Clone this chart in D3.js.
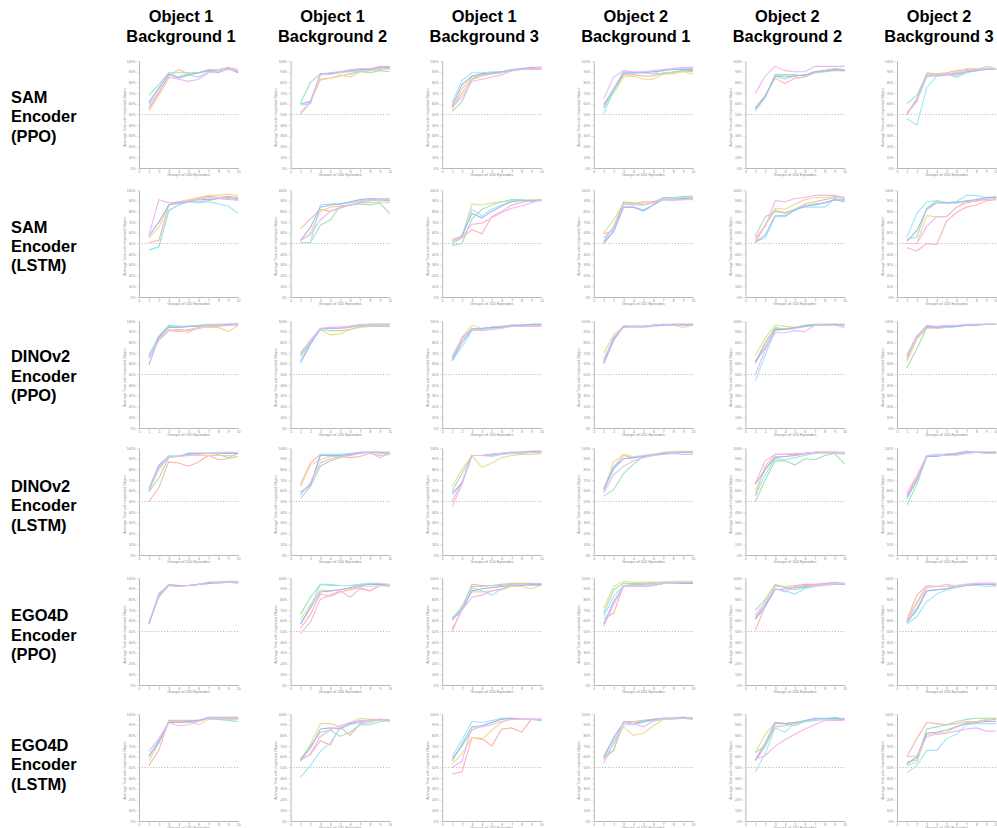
<!DOCTYPE html>
<html>
<head>
<meta charset="utf-8">
<script src="https://cdn.jsdelivr.net/npm/d3@7"></script>
<style>
  body { margin: 0; background: #fff; }
  .hdr { font-family: "Liberation Sans", Arial, sans-serif; font-weight: bold; font-size: 16.4px; fill: #000; }
  .tiny { font-family: "Liberation Sans", Arial, sans-serif; fill: #8a8a8a; }
</style>
</head>
<body>
<script>
// column / row labels
var columns = [
  ['Object 1', 'Background 1'], ['Object 1', 'Background 2'], ['Object 1', 'Background 3'],
  ['Object 2', 'Background 1'], ['Object 2', 'Background 2'], ['Object 2', 'Background 3']
];
var rows = [
  ['SAM', 'Encoder', '(PPO)'], ['SAM', 'Encoder', '(LSTM)'],
  ['DINOv2', 'Encoder', '(PPO)'], ['DINOv2', 'Encoder', '(LSTM)'],
  ['EGO4D', 'Encoder', '(PPO)'], ['EGO4D', 'Encoder', '(LSTM)']
];

var episodes = [1, 2, 3, 4, 5, 6, 7, 8, 9, 10];
var xTicks = [0, 1, 2, 3, 4, 5, 6, 7, 8, 9, 10];
var yTicks = [0, 0.1, 0.2, 0.3, 0.4, 0.5, 0.6, 0.7, 0.8, 0.9, 1];
var seeds = ['red', 'yellow', 'green', 'cyan', 'blue', 'magenta'];
var seedColors = ['#ffb2ac', '#e8de8e', '#9fe3b3', '#9fe6fa', '#a7b6ef', '#f2b6f3'];

// % of time with imprinted object; each panel = 6 seeds x 10 groups
var samPPO = [
  [[55,70,86,92,88,89,92,92,94,92],[53,68,84,86,88,89,91,92,93,91],[68,78,89,89,89,89,91,91,93,89],
   [62,75,88,85,87,85,90,91,93,90],[60,74,88,84,87,89,91,89,93,89],[57,71,85,83,81,83,89,90,92,91]],
  [[50,62,83,84,86,88,90,91,92,93],[50,63,82,84,87,85,90,91,93,92],[61,80,88,88,89,90,90,89,91,90],
   [59,60,88,89,90,91,91,92,94,93],[60,62,88,88,90,91,92,92,94,94],[52,61,87,89,90,92,93,93,95,95]],
  [[56,70,83,86,88,89,91,92,92,92],[55,74,85,87,88,89,91,92,93,93],[53,62,83,88,88,90,91,92,93,94],
   [61,82,89,89,90,90,91,93,93,94],[58,78,86,88,89,90,92,93,94,94],[57,66,81,83,85,87,91,92,93,94]],
  [[56,72,87,87,86,86,89,89,91,90],[57,70,85,86,83,83,88,88,90,88],[56,72,88,89,89,88,88,90,91,91],
   [51,72,91,88,90,88,92,93,93,93],[59,74,89,89,89,90,91,92,92,92],[65,85,91,90,90,91,92,93,94,94]],
  [[56,68,84,79,84,85,89,90,91,91],[57,67,87,87,87,86,89,90,92,91],[56,66,87,87,87,86,89,91,93,92],
   [53,66,86,83,86,87,90,91,92,92],[55,67,86,85,86,87,90,91,92,91],[70,86,95,91,90,90,95,95,95,95]],
  [[52,62,89,88,89,91,92,93,93,92],[51,65,88,88,88,90,93,93,93,92],[60,68,87,87,88,85,89,91,95,93],
   [46,40,75,86,87,87,89,92,92,92],[50,64,86,86,87,88,90,91,92,92],[50,63,85,87,87,89,91,92,93,92]]
];
var samLSTM = [
  [[51,53,86,89,90,92,94,93,94,93],[55,65,86,89,91,93,95,95,96,95],[44,47,81,86,89,89,90,92,91,91],
   [44,47,80,87,89,88,89,87,85,78],[57,70,86,88,89,91,91,92,93,92],[58,91,88,89,90,91,93,92,92,90]],
  [[64,73,82,80,83,86,89,90,91,90],[52,60,80,84,85,86,88,88,89,88],[51,51,67,72,85,86,87,86,88,78],
   [51,51,86,87,87,88,90,91,92,92],[53,65,84,86,87,89,91,92,91,90],[53,58,72,80,84,86,88,90,91,91]],
  [[50,55,63,59,75,80,86,88,91,91],[54,57,87,86,88,89,90,90,91,91],[48,50,73,82,86,89,91,91,90,91],
   [49,58,82,76,82,86,90,91,89,91],[52,57,78,74,80,85,89,90,90,90],[53,56,68,69,74,79,83,85,88,91]],
  [[59,62,88,87,89,89,92,92,92,92],[60,72,88,87,88,88,91,90,91,91],[52,66,89,88,86,88,93,93,94,94],
   [51,62,84,84,80,86,92,92,93,93],[50,61,84,84,81,86,91,91,92,92],[55,64,87,86,86,88,91,91,91,92]],
  [[51,67,81,79,82,87,89,91,93,92],[53,68,83,82,87,91,93,93,94,93],[57,75,80,78,82,85,87,88,91,91],
   [52,55,75,75,82,84,84,84,92,90],[51,58,76,76,81,85,86,88,91,89],[55,66,90,89,92,93,95,95,95,93]],
  [[46,43,50,49,71,79,84,86,90,91],[50,50,76,75,75,84,90,89,92,93],[54,56,83,90,88,89,89,90,93,93],
   [56,78,89,90,88,89,95,95,93,94],[52,62,82,88,88,88,90,91,93,93],[50,50,66,75,75,84,88,90,91,92]]
];
var dinoPPO = [
  [[67,84,92,92,91,93,95,95,96,96],[66,82,92,91,89,94,94,94,90,96],[68,86,96,95,95,96,97,97,97,97],
   [67,86,95,94,95,95,96,97,97,98],[59,85,94,94,95,95,96,96,97,97],[65,82,91,90,92,94,96,96,96,97]],
  [[70,82,93,93,93,94,96,96,96,97],[68,80,92,87,88,92,94,95,95,96],[67,80,92,91,91,92,95,95,95,95],
   [63,79,93,94,94,95,97,97,97,97],[61,78,93,93,94,95,96,97,97,97],[69,82,93,94,94,95,96,97,97,97]],
  [[65,83,93,93,94,95,96,96,96,96],[66,85,96,93,94,95,96,96,97,97],[65,84,93,93,94,94,96,96,96,97],
   [63,76,91,92,93,94,96,96,97,97],[63,80,92,93,94,94,96,96,97,97],[67,84,92,91,92,93,95,95,95,95]],
  [[64,84,95,95,95,96,97,97,97,97],[70,87,95,95,95,96,96,96,94,96],[62,83,95,94,95,96,96,96,96,97],
   [61,82,95,94,94,95,96,96,96,96],[60,82,95,95,95,96,96,97,97,97],[63,85,94,95,95,96,97,96,96,96]],
  [[62,80,93,93,94,96,96,97,97,97],[68,84,96,95,94,96,97,97,97,97],[60,79,94,92,93,96,97,97,97,96],
   [44,68,91,92,93,95,96,96,96,96],[62,75,92,92,94,95,96,96,97,96],[50,73,89,89,91,90,96,96,96,94]],
  [[64,84,94,93,94,95,96,96,97,97],[62,83,93,94,95,95,96,97,97,97],[56,74,94,94,94,95,96,96,97,97],
   [66,86,95,94,94,95,96,97,97,97],[68,86,95,94,95,95,96,96,97,97],[67,85,96,95,96,96,97,97,97,97]]
];
var dinoLSTM = [
  [[50,63,87,86,83,87,93,89,90,92],[60,80,92,93,93,93,93,93,93,92],[59,72,91,92,94,95,95,94,91,95],
   [61,82,93,92,95,95,95,96,96,95],[62,84,92,92,95,95,95,95,95,95],[61,81,92,92,93,94,95,95,96,96]],
  [[66,86,94,92,92,91,92,95,93,94],[64,84,89,92,93,93,95,96,95,95],[53,64,83,88,91,94,96,96,96,96],
   [58,65,94,94,94,95,96,96,96,96],[59,65,93,93,93,94,96,96,96,95],[56,68,86,90,92,93,95,96,91,95]],
  [[50,68,93,93,94,95,96,96,97,97],[64,80,93,82,86,91,93,94,94,95],[60,76,93,93,93,94,95,95,96,96],
   [56,68,93,93,92,94,95,96,96,96],[58,67,93,93,94,95,96,96,97,97],[45,66,93,93,94,95,96,96,96,96]],
  [[60,82,93,91,93,94,95,96,96,96],[61,87,94,92,93,94,96,97,97,97],[55,61,76,85,92,94,95,96,96,96],
   [60,80,90,91,93,93,95,96,96,96],[62,82,90,91,92,93,95,95,96,96],[58,75,83,88,91,93,94,95,94,94]],
  [[56,83,94,94,94,95,96,96,96,95],[60,80,92,92,93,94,95,95,95,94],[50,70,88,88,84,90,89,93,95,85],
   [55,75,90,89,91,93,95,96,96,95],[66,80,91,92,93,95,96,96,96,96],[67,88,94,94,95,95,96,96,96,96]],
  [[58,74,93,93,94,95,96,96,96,96],[55,72,93,93,94,95,96,96,96,96],[47,66,92,93,93,94,95,96,96,96],
   [52,70,93,94,94,93,95,96,95,95],[54,70,92,92,94,95,97,96,96,96],[56,72,93,93,93,94,96,96,95,95]]
];
var egoPPO = [
  [[58,82,93,92,93,94,96,96,97,97],[57,83,94,93,93,94,95,96,96,96],[58,84,94,93,93,94,96,96,96,96],
   [58,86,93,93,93,94,95,95,96,95],[57,84,93,93,93,94,95,96,96,96],[59,83,93,92,93,94,96,96,96,96]],
  [[53,66,85,83,87,89,91,88,93,92],[61,75,89,88,89,90,92,92,93,93],[66,82,94,93,93,93,94,94,94,93],
   [57,73,94,94,93,93,94,95,95,94],[57,72,87,88,89,91,93,94,94,93],[48,59,80,84,88,82,90,88,93,93]],
  [[50,72,94,93,93,94,95,95,95,94],[60,74,87,87,88,89,92,92,90,93],[62,73,92,92,93,93,94,95,94,95],
   [63,71,91,88,84,90,93,93,94,94],[61,70,88,90,91,92,93,93,94,94],[52,70,82,84,88,90,93,94,93,93]],
  [[62,67,93,94,94,95,96,96,96,96],[72,92,97,96,96,96,96,97,97,97],[67,89,95,95,95,96,96,96,96,96],
   [64,83,93,93,93,94,95,95,95,95],[57,78,92,92,92,93,95,95,95,95],[55,75,92,92,92,93,95,95,96,96]],
  [[51,74,93,92,93,94,94,95,96,95],[62,78,92,92,91,92,93,94,95,94],[70,80,94,91,89,91,93,94,96,94],
   [61,73,90,88,85,90,92,93,94,94],[62,74,89,90,91,92,93,94,95,94],[65,77,90,87,92,93,93,94,95,95]],
  [[61,84,93,92,92,93,94,94,95,94],[60,78,93,92,92,93,94,95,95,95],[58,72,88,89,90,92,93,94,95,92],
   [57,64,78,85,89,91,93,93,92,93],[59,70,88,89,90,92,93,94,94,94],[60,76,91,92,94,92,94,95,95,95]]
];
var egoLSTM = [
  [[52,66,94,94,94,94,96,96,96,96],[56,73,93,93,93,90,95,95,95,95],[60,75,93,92,92,94,96,95,94,93],
   [60,73,92,92,93,94,96,96,96,96],[61,74,92,92,93,94,97,97,97,97],[65,77,92,89,90,93,96,96,96,96]],
  [[58,62,75,71,88,80,91,92,95,93],[56,72,91,91,88,92,96,95,95,94],[58,70,83,85,79,83,90,90,93,94],
   [41,52,65,73,87,90,92,93,95,94],[57,68,86,87,86,91,93,94,95,94],[56,63,79,85,89,92,94,94,95,94]],
  [[44,46,78,77,70,86,87,83,95,95],[53,63,78,76,85,92,96,95,95,95],[58,70,85,89,92,96,96,95,95,95],
   [60,76,93,92,94,96,96,95,95,95],[56,72,88,89,92,95,96,95,95,94],[50,56,88,88,90,93,95,95,95,95]],
  [[58,66,93,93,94,95,96,96,97,96],[57,72,88,80,82,89,95,95,96,96],[60,66,93,91,94,94,95,96,96,95],
   [59,76,90,90,92,94,96,96,97,96],[60,78,92,91,93,95,96,96,97,96],[54,73,92,91,88,93,96,96,96,96]],
  [[56,70,88,89,91,93,95,95,95,95],[64,81,92,91,92,93,95,95,96,96],[64,70,91,91,89,93,94,95,97,95],
   [46,63,87,83,92,93,95,95,95,95],[57,73,92,91,92,94,96,96,96,95],[58,61,70,76,81,86,90,94,94,94]],
  [[60,77,92,91,90,91,93,93,94,95],[52,55,81,82,83,88,92,93,95,96],[55,57,86,88,90,93,95,96,96,96],
   [45,52,66,66,77,81,90,91,91,91],[53,60,82,83,85,88,91,92,93,93],[60,61,79,81,82,84,86,87,84,84]]
];
var grid = [samPPO, samLSTM, dinoPPO, dinoLSTM, egoPPO, egoLSTM];

// layout
var W = 997, H = 828;
var plotW = 99.2, plotH = 107;
var colX = d3.range(6).map(function(c) { return 139 + 151.6 * c; });
var rowY = [61, 190, 321, 448, 578, 714];

var svg = d3.select('body').append('svg')
  .attr('width', W)
  .attr('height', H);

svg.append('rect').attr('width', W).attr('height', H).attr('fill', '#fff');

// column headers
columns.forEach(function(lines, c) {
  var t = svg.append('text').attr('class', 'hdr').attr('text-anchor', 'middle');
  lines.forEach(function(s, i) {
    t.append('tspan').attr('x', colX[c] + 42).attr('y', 22.3 + i * 19.4).text(s);
  });
});

// row labels
rows.forEach(function(lines, r) {
  var t = svg.append('text').attr('class', 'hdr');
  lines.forEach(function(s, i) {
    t.append('tspan').attr('x', 11).attr('y', 103 + r * 129.6 + i * 19.4).text(s);
  });
});

var x = d3.scaleLinear().domain([0, 10]).range([0, plotW]);
var y = d3.scaleLinear().domain([0, 1]).range([plotH, 0]);
var color = d3.scaleOrdinal().domain(seeds).range(seedColors);

var line = d3.line()
  .x(function(d, i) { return x(episodes[i]); })
  .y(function(d) { return y(d / 100); });

function styleAxis(g) {
  g.select('.domain').attr('stroke', '#b8b8b8').attr('stroke-width', 1);
  g.selectAll('.tick line').attr('stroke', '#c8c8c8').attr('stroke-width', 0.6);
  g.selectAll('.tick text').attr('class', 'tiny').style('font-size', '3.4px').attr('fill', '#9a9a9a');
}

grid.forEach(function(rowData, r) {
  rowData.forEach(function(panel, c) {
    var g = svg.append('g').attr('transform', 'translate(' + colX[c] + ',' + rowY[r] + ')');

    g.append('g')
      .call(d3.axisLeft(y).tickValues(yTicks).tickFormat(d3.format('.0%'))
        .tickSize(2).tickSizeOuter(0).tickPadding(1.5))
      .call(styleAxis);

    var xa = g.append('g')
      .attr('transform', 'translate(0,' + plotH + ')')
      .call(d3.axisBottom(x).tickValues(xTicks).tickSize(2).tickSizeOuter(0).tickPadding(1))
      .call(styleAxis);
    // last column sits against the page edge: keep its "10" inside
    if (c === columns.length - 1) {
      xa.selectAll('.tick text').filter(function(d) { return d === 10; })
        .attr('text-anchor', 'end').attr('dx', 1.2);
    }

    // 50% chance line
    g.append('line')
      .attr('x1', x(0)).attr('x2', x(10))
      .attr('y1', y(0.5)).attr('y2', y(0.5))
      .attr('stroke', '#b4b4b4')
      .attr('stroke-width', 1)
      .attr('stroke-dasharray', '1,1.8');

    g.selectAll('path.seed')
      .data(panel)
      .enter().append('path')
      .attr('class', 'seed')
      .attr('d', line)
      .attr('fill', 'none')
      .attr('stroke', function(d, i) { return color(seeds[i]); })
      .attr('stroke-width', 1.1);

    g.append('text')
      .attr('class', 'tiny')
      .attr('x', plotW / 2)
      .attr('y', plotH + 7.5)
      .attr('text-anchor', 'middle')
      .style('font-size', '4px')
      .attr('fill', '#777')
      .text('Groups of 100 Episodes');

    g.append('text')
      .attr('class', 'tiny')
      .attr('transform', 'translate(-13.5,' + (plotH / 2 + 3) + ') rotate(-90)')
      .attr('text-anchor', 'middle')
      .style('font-size', '3.7px')
      .attr('fill', '#777')
      .text('Average Time with Imprinted Object');
  });
});
</script>
</body>
</html>
